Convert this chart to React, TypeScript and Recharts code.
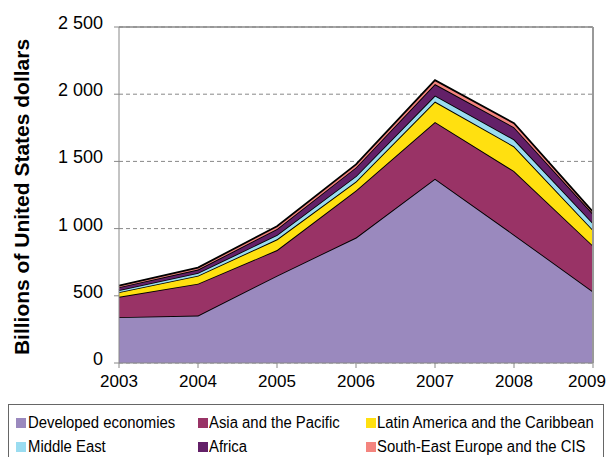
import React from 'react';
import { AreaChart, Area, XAxis, YAxis, CartesianGrid, ReferenceLine } from 'recharts';

const years = ['2003', '2004', '2005', '2006', '2007', '2008', '2009'];
const developed = [341, 353, 650, 933, 1371, 955, 532];
const asiaPacific = [152, 237, 190, 350, 422, 473, 341];
const latinAmerica = [34, 60, 80, 67, 152, 184, 117];
const middleEast = [15, 20, 32, 40, 45, 52, 50];
const africa = [22, 25, 45, 65, 85, 90, 70];
const seeCis = [12, 15, 20, 23, 30, 30, 15];
const yTicks = [0, 500, 1000, 1500, 2000, 2500];

const seriesNames = [
  'Developed economies',
  'Asia and the Pacific',
  'Latin America and the Caribbean',
  'Middle East',
  'Africa',
  'South-East Europe and the CIS',
];
const seriesKeys = ['dev', 'asia', 'latam', 'me', 'africa', 'see'];
const seriesColors = ['#9A89BE', '#993366', '#FFE010', '#9ADCF0', '#632068', '#F4847E'];

const data = years.map((y, i) => ({
  year: y,
  dev: developed[i],
  asia: asiaPacific[i],
  latam: latinAmerica[i],
  me: middleEast[i],
  africa: africa[i],
  see: seeCis[i],
}));

const fmt = (v: number) => (v >= 1000 ? `${Math.floor(v / 1000)} ${String(v % 1000).padStart(3, '0')}` : String(v));

const FONT = 'Liberation Sans, Arial, sans-serif';

const XTick = (props: any) => {
  const { x, y, payload, index } = props;
  const last = index === years.length - 1;
  return (
    <text x={x + (last ? -6 : 0)} y={y + 13} textAnchor="middle" fill="#000" fontSize={17} fontFamily={FONT}>
      {payload.value}
    </text>
  );
};

const YTick = (props: any) => {
  const { x, y, payload } = props;
  return (
    <text x={x} y={y + 2} textAnchor="end" fill="#000" fontSize={18} fontFamily={FONT}>
      {fmt(payload.value)}
    </text>
  );
};

export default function App() {
  return (
    <div style={{ position: 'absolute', left: 0, top: 0, width: 607, height: 457, background: '#fff', fontFamily: FONT, overflow: 'hidden' }}>
      <AreaChart width={607} height={457} data={data} margin={{ top: 27, right: 14, bottom: 64, left: 0 }}>
        <CartesianGrid vertical={false} stroke="#888" strokeDasharray="4 3" />
        <XAxis dataKey="year" height={30} stroke="#888" tickSize={5} tickMargin={6} tick={<XTick />} interval={0} />
        <YAxis
          width={119}
          domain={[0, 2500]}
          ticks={yTicks}
          stroke="#888"
          tickSize={5}
          tickMargin={11}
          tick={<YTick />}
          interval={0}
        />
        {seriesKeys.map((k, i) => (
          <Area
            key={k}
            dataKey={k}
            name={seriesNames[i]}
            stackId="1"
            type="linear"
            fill={seriesColors[i]}
            fillOpacity={1}
            stroke="#000"
            strokeWidth={1.8}
            isAnimationActive={false}
            dot={false}
            activeDot={false}
          />
        ))}
        <ReferenceLine y={2500} stroke="#888" strokeWidth={1.5} />
        <ReferenceLine x="2009" stroke="#999" strokeWidth={2} />
      </AreaChart>
      <div style={{ position: 'absolute', left: 22, top: 197, width: 0, height: 0 }}>
        <div
          style={{
            position: 'absolute',
            left: 0,
            top: 0,
            transform: 'translate(-50%, -50%) rotate(-90deg)',
            whiteSpace: 'nowrap',
            fontWeight: 'bold',
            fontSize: 21,
            lineHeight: '24px',
            fontFamily: FONT,
            color: '#000',
            transformOrigin: 'center',
          }}
        >
          Billions of United States dollars
        </div>
      </div>
      <div
        style={{
          position: 'absolute',
          left: 8,
          top: 404,
          width: 596,
          height: 60,
          border: '1px solid #666',
          boxSizing: 'border-box',
        }}
      >
        {seriesNames.map((n, i) => {
          const col = i % 3;
          const row = Math.floor(i / 3);
          const sqX = [7, 189, 357][col];
          const txX = [19, 200, 368][col];
          const cy = [18, 42][row];
          return (
            <React.Fragment key={n}>
              <div style={{ position: 'absolute', left: sqX, top: cy - 5, width: 10, height: 10, background: seriesColors[i] }} />
              <div
                style={{
                  position: 'absolute',
                  left: txX,
                  top: cy - 10,
                  fontSize: 16,
                  lineHeight: '20px',
                  fontFamily: FONT,
                  color: '#000',
                  whiteSpace: 'nowrap',
                  transform: 'scaleX(0.93)',
                  transformOrigin: 'left center',
                }}
              >
                {n}
              </div>
            </React.Fragment>
          );
        })}
      </div>
    </div>
  );
}
